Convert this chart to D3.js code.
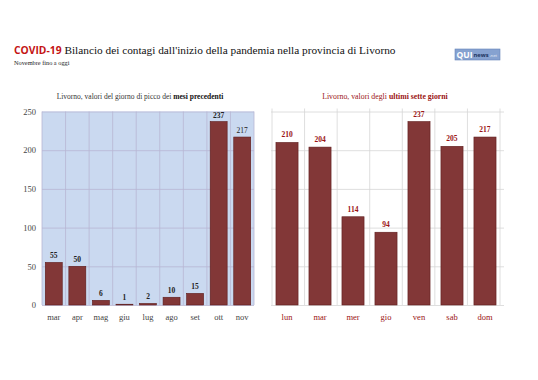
<!DOCTYPE html>
<html>
<head>
<meta charset="utf-8">
<script src="https://cdn.jsdelivr.net/npm/d3@7"></script>
<style>
  body { margin: 0; background: #fff; }
  svg { display: block; }
</style>
</head>
<body>
<script>
// dati
const mesi = ['mar', 'apr', 'mag', 'giu', 'lug', 'ago', 'set', 'ott', 'nov']
const piccoMesi = [55, 50, 6, 1, 2, 10, 15, 237, 217]
const giorni = ['lun', 'mar', 'mer', 'gio', 'ven', 'sab', 'dom']
const ultimiGiorni = [210, 204, 114, 94, 237, 205, 217]
const yTicks = [0, 50, 100, 150, 200, 250]

const w = 538
const h = 380
const serif = '"Liberation Serif", "DejaVu Serif", serif'
const barFill = '#823737'
const barStroke = '#5e1c1c'
const darkRed = '#9b1414'

const svg = d3.select('body')
  .append('svg')
  .attr('width', w)
  .attr('height', h)

// titolo
const title = svg.append('text')
  .attr('x', 14)
  .attr('y', 54)
title.append('tspan')
  .attr('font-family', '"Open Sans", sans-serif')
  .attr('font-weight', 'bold')
  .attr('font-size', 10.3)
  .attr('fill', '#c41414')
  .text('COVID-19')
title.append('tspan')
  .attr('font-family', serif)
  .attr('font-size', 11.3)
  .attr('fill', '#111')
  .text(' Bilancio dei contagi dall\'inizio della pandemia nella provincia di Livorno')

svg.append('text')
  .attr('x', 14)
  .attr('y', 65)
  .attr('font-family', serif)
  .attr('font-size', 6.3)
  .attr('fill', '#222')
  .text('Novembre fino a oggi')

// logo
const logo = svg.append('g').attr('transform', 'translate(455,49)')
logo.append('rect')
  .attr('width', 45).attr('height', 11)
  .attr('fill', '#86a2d0').attr('stroke', '#6584b8').attr('stroke-width', 0.6)
logo.append('text')
  .attr('x', 1.5).attr('y', 9.3)
  .attr('font-family', '"Open Sans", sans-serif')
  .attr('font-weight', 'bold')
  .attr('font-size', 8.5)
  .attr('fill', '#fff')
  .text('QUI')
logo.append('text')
  .attr('x', 18.5).attr('y', 8.3)
  .attr('font-family', '"Open Sans", sans-serif')
  .attr('font-weight', 'bold')
  .attr('font-size', 5.8)
  .attr('fill', '#1d3561')
  .text('news')
logo.append('text')
  .attr('x', 34.5).attr('y', 8.3)
  .attr('font-family', '"Open Sans", sans-serif')
  .attr('font-size', 4.2)
  .attr('fill', '#e6edf8')
  .text('.net')

const yScale = d3.scaleLinear()
  .domain([0, 250])
  .range([305, 111.5])

// ---------- grafico sinistro ----------
const xLeft = d3.scaleBand()
  .domain(mesi)
  .range([42, 254])
  .paddingInner(0.28)
  .paddingOuter(0.14)

const left = svg.append('g')

left.append('rect')
  .attr('x', 42).attr('y', yScale(250))
  .attr('width', 212).attr('height', yScale(0) - yScale(250))
  .attr('fill', '#cad9f0')

const stepL = 212 / mesi.length
left.selectAll('.vgrid')
  .data(d3.range(mesi.length + 1))
  .enter()
  .append('line')
  .attr('x1', (i) => 42 + i * stepL)
  .attr('x2', (i) => 42 + i * stepL)
  .attr('y1', yScale(250))
  .attr('y2', yScale(0))
  .attr('stroke', '#b7b6d3')
  .attr('stroke-width', 0.8)

const yAxisLeft = d3.axisLeft(yScale)
  .tickValues(yTicks)
  .tickSize(-212)
  .tickPadding(6)

left.append('g')
  .attr('transform', 'translate(42,0)')
  .call(yAxisLeft)
  .call(g => g.select('.domain').remove())
  .call(g => g.selectAll('line').attr('stroke', '#b7b6d3').attr('stroke-width', 0.8))
  .call(g => g.selectAll('text')
    .attr('font-family', serif)
    .attr('font-size', 8.5)
    .attr('fill', '#444'))

left.selectAll('.bar')
  .data(piccoMesi)
  .enter()
  .append('rect')
  .attr('x', (d, i) => xLeft(mesi[i]))
  .attr('y', (d) => yScale(d))
  .attr('width', xLeft.bandwidth())
  .attr('height', (d) => yScale(0) - yScale(d))
  .attr('fill', barFill)
  .attr('stroke', barStroke)
  .attr('stroke-width', 0.6)

left.selectAll('.val')
  .data(piccoMesi)
  .enter()
  .append('text')
  .attr('x', (d, i) => xLeft(mesi[i]) + xLeft.bandwidth() / 2)
  .attr('y', (d) => yScale(d) - 4)
  .attr('text-anchor', 'middle')
  .attr('font-family', serif)
  .attr('font-size', 7.5)
  .attr('font-weight', (d, i) => i === mesi.length - 1 ? 'normal' : 'bold')
  .attr('fill', '#222')
  .text((d) => d)

const xAxisLeft = d3.axisBottom(xLeft).tickSize(0).tickPadding(9)
left.append('g')
  .attr('transform', 'translate(0,' + yScale(0) + ')')
  .call(xAxisLeft)
  .call(g => g.select('.domain').remove())
  .call(g => g.selectAll('text')
    .attr('font-family', serif)
    .attr('font-size', 8.5)
    .attr('fill', '#444'))

const subLeft = left.append('text')
  .attr('x', 140)
  .attr('y', 99)
  .attr('text-anchor', 'middle')
  .attr('font-family', serif)
  .attr('font-size', 7.5)
  .attr('fill', '#333')
subLeft.append('tspan').text('Livorno, valori del giorno di picco dei ')
subLeft.append('tspan').attr('font-weight', 'bold').attr('fill', '#111').text('mesi precedenti')

// ---------- grafico destro ----------
const xRight = d3.scaleBand()
  .domain(giorni)
  .range([272, 500])
  .paddingInner(0.33)
  .paddingOuter(0.12)

const right = svg.append('g')
const stepR = 228 / giorni.length

const yAxisRight = d3.axisLeft(yScale)
  .tickValues(yTicks)
  .tickSize(-233)
  .tickFormat('')

right.append('g')
  .attr('transform', 'translate(271,0)')
  .call(yAxisRight)
  .call(g => g.select('.domain').remove())
  .call(g => g.selectAll('line').attr('stroke', '#d6d6d6').attr('stroke-width', 0.8))

right.selectAll('.vgrid')
  .data(d3.range(giorni.length + 1))
  .enter()
  .append('line')
  .attr('x1', (i) => 272 + i * stepR)
  .attr('x2', (i) => 272 + i * stepR)
  .attr('y1', yScale(250) - 3)
  .attr('y2', yScale(0))
  .attr('stroke', '#d6d6d6')
  .attr('stroke-width', 0.8)

right.selectAll('.bar')
  .data(ultimiGiorni)
  .enter()
  .append('rect')
  .attr('x', (d, i) => xRight(giorni[i]))
  .attr('y', (d) => yScale(d))
  .attr('width', xRight.bandwidth())
  .attr('height', (d) => yScale(0) - yScale(d))
  .attr('fill', barFill)
  .attr('stroke', barStroke)
  .attr('stroke-width', 0.6)

right.selectAll('.val')
  .data(ultimiGiorni)
  .enter()
  .append('text')
  .attr('x', (d, i) => xRight(giorni[i]) + xRight.bandwidth() / 2)
  .attr('y', (d) => yScale(d) - 5)
  .attr('text-anchor', 'middle')
  .attr('font-family', serif)
  .attr('font-size', 7.5)
  .attr('font-weight', 'bold')
  .attr('fill', darkRed)
  .text((d) => d)

const xAxisRight = d3.axisBottom(xRight).tickSize(0).tickPadding(9)
right.append('g')
  .attr('transform', 'translate(0,' + yScale(0) + ')')
  .call(xAxisRight)
  .call(g => g.select('.domain').remove())
  .call(g => g.selectAll('text')
    .attr('font-family', serif)
    .attr('font-size', 8.5)
    .attr('fill', darkRed))

const subRight = right.append('text')
  .attr('x', 385)
  .attr('y', 99)
  .attr('text-anchor', 'middle')
  .attr('font-family', serif)
  .attr('font-size', 7.8)
  .attr('fill', darkRed)
subRight.append('tspan').text('Livorno, valori degli ')
subRight.append('tspan').attr('font-weight', 'bold').text('ultimi sette giorni')
</script>
</body>
</html>
